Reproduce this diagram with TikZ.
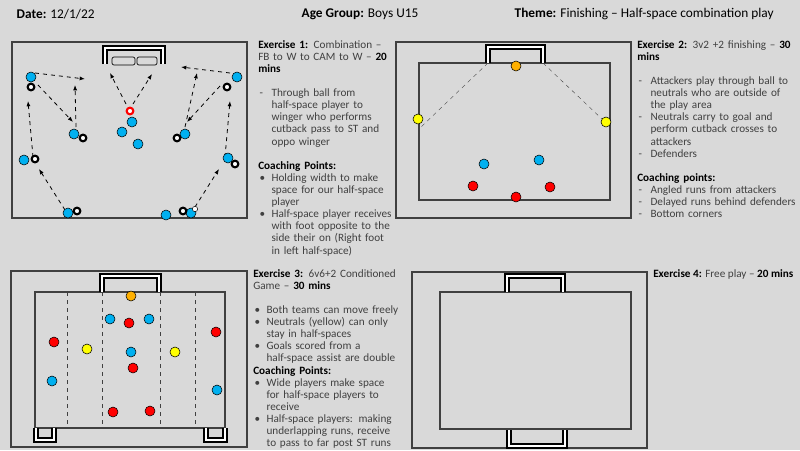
\documentclass[tikz,border=0pt]{standalone}
\usepackage{fontspec}
\setmainfont{Carlito}
\usetikzlibrary{arrows.meta,positioning}
\definecolor{bg}{HTML}{D9D9D9}
\definecolor{txt}{HTML}{404040}
\definecolor{pblue}{HTML}{00B0F0}
\definecolor{porange}{HTML}{FFB000}
\definecolor{pyellow}{HTML}{FFFF00}
\definecolor{pred}{HTML}{FF0000}
\newcommand{\dashit}[1]{\par\hangindent=10pt\hangafter=1\noindent\makebox[10pt][l]{\hspace{1pt}-}#1\par}
\newcommand{\bulit}[1]{\par\hangindent=10pt\hangafter=1\noindent\makebox[10pt][l]{\hspace{1pt}\textbullet}#1\par}
\tikzset{
  pitch/.style={draw=txt, line width=1.1pt},
  goal/.style={draw=black, double=white, double distance=0.9pt, line width=1.9pt},
  player/.style={circle, draw=black, line width=0.4pt, minimum size=7.5pt, inner sep=0pt},
  blue/.style={player, fill=pblue},
  red/.style={player, fill=pred},
  yellow/.style={player, fill=pyellow},
  orange/.style={player, fill=porange},
  ring/.style={circle, draw=black, line width=1.6pt, fill=white, minimum size=5pt, inner sep=0pt},
  run/.style={-{Latex[length=4pt,width=3pt]}, dashed, line width=0.6pt, black},
  notes/.style={anchor=north west, inner sep=0pt, align=left, text=txt,
    font=\fontsize{8.4}{9.1}\selectfont,
    execute at begin node={\hyphenpenalty=10000\exhyphenpenalty=10000}}
}
\begin{document}
\begin{tikzpicture}[x=0.75pt, y=-0.75pt]
    \fill[bg] (0,0) rectangle (800,450);
    \useasboundingbox (0,0) rectangle (800,450);

    % Header
    \node[anchor=west, font=\fontsize{10}{11}\selectfont] (date) at (12,14) {\textbf{Date:} 12/1/22};
    \node[anchor=west, font=\fontsize{10}{11}\selectfont] (age) at (297,14) {\textbf{Age Group:} Boys U15};
    \node[anchor=west, font=\fontsize{10}{11}\selectfont] (theme) at (510,14) {\textbf{Theme:} Finishing -- Half-space combination play};

    % Exercise 1
    \draw[pitch] (12,42) rectangle (247,218);
    \draw[goal] (105,64) -- (105,48) -- (163,48) -- (163,64);
    \draw[draw=black, fill=bg, rounded corners=1.5pt, line width=0.5pt] (112,57) rectangle (135,65);
    \draw[draw=black, fill=bg, rounded corners=1.5pt, line width=0.5pt] (137,57) rectangle (157,65);
    \foreach \xa/\ya/\xb/\yb in {35/73/85/79, 38/85/73/122, 76/127/75/85, 33/157/28/101, 65/210/39/169,
                       126/104/110/73, 133/104/152/74, 230/73/181/67, 185/127/197/73,
                       220/86/187/122, 225/157/230/101, 195/207/219/169}
        \draw[run] (\xa,\ya) -- (\xb,\yb);
    \foreach \x/\y in {31/77, 74/134, 24/160, 68/213, 132/122, 122/132, 138/144,
                       166/215, 191/213, 185/134, 228/158, 237/77}
        \node[blue] at (\x,\y) {};
    \foreach \x/\y in {31/87, 83/138, 35/159, 77/211, 183/211, 177/138, 235/164, 227/87}
        \node[ring] at (\x,\y) {};
    \node[ring, draw=pred] (st) at (130,111) {};
    \node[circle, draw=black, fill=white, line width=0.4pt, minimum size=4pt, inner sep=0pt] (ball) at (195,209) {};
    \node[notes, text width=103pt] (ex1) at (258,40) {%
        \textcolor{black}{\textbf{Exercise 1:}} Combination -- FB to W to CAM to W -- \textbf{\textcolor{black}{20 mins}}\par
        \vspace{9pt}
        \dashit{Through ball from half-space player to winger who performs cutback pass to ST and oppo winger}
        \vspace{9pt}
        \noindent\textcolor{black}{\textbf{Coaching Points:}}
        \bulit{Holding width to make space for our half-space player}
        \bulit{Half-space player receives with foot opposite to the side their on (Right foot in left half-space)}};

    % Exercise 2
    \draw[pitch] (396,42) rectangle (631,218);
    \draw[pitch, line width=0.9pt] (419,63) rectangle (610,200);
    \draw[goal] (488,63) -- (488,47) -- (543,47) -- (543,63);
    \draw[dashed, line width=0.3pt, txt] (488,63) -- (421,127);
    \draw[dashed, line width=0.3pt, txt] (543,63) -- (603,120);
    \node[orange] (gk2) at (516,66) {};
    \node[yellow] (n2a) at (418,119) {};
    \node[yellow] (n2b) at (606,122) {};
    \node[blue] (a2a) at (484,164) {};
    \node[blue] (a2b) at (539,160) {};
    \node[red] (d2a) at (473,186) {};
    \node[red] (d2b) at (550,187) {};
    \node[red] (d2c) at (516,197) {};
    \node[notes, text width=120pt] (ex2) at (637,40) {%
        \textcolor{black}{\textbf{Exercise 2:}} 3v2 +2 finishing -- \textbf{\textcolor{black}{30 mins}}\par
        \vspace{9pt}
        \dashit{Attackers play through ball to neutrals who are outside of the play area}
        \dashit{Neutrals carry to goal and perform cutback crosses to attackers}
        \dashit{Defenders}
        \vspace{9pt}
        \noindent\textcolor{black}{\textbf{Coaching points:}}
        \dashit{Angled runs from attackers}
        \dashit{Delayed runs behind defenders}
        \dashit{Bottom corners}};

    % Exercise 3
    \draw[pitch] (11,271) rectangle (247,447);
    \draw[pitch, line width=0.9pt] (35,292) rectangle (225,428);
    \foreach \x in {67,102,160,195}
        \draw[dashed, line width=0.3pt, txt] (\x,292) -- (\x,428);
    \draw[goal] (102,292) -- (102,276) -- (159,276) -- (159,292);
    \draw[goal] (36,428) -- (36,440) -- (54,440) -- (54,428);
    \draw[goal] (206,428) -- (206,440) -- (225,440) -- (225,428);
    \node[orange] at (131,296) {};
    \foreach \x/\y in {110/319, 149/319, 131/352, 52/381, 217/390}
        \node[blue] at (\x,\y) {};
    \foreach \x/\y in {129/323, 54/342, 216/332, 133/368, 113/412, 150/411}
        \node[red] at (\x,\y) {};
    \foreach \x/\y in {87/349, 175/352}
        \node[yellow] at (\x,\y) {};
    \node[notes, text width=110pt] (ex3) at (253,269) {%
        \textcolor{black}{\textbf{Exercise 3:}} 6v6+2 Conditioned Game -- \textbf{\textcolor{black}{30 mins}}\par
        \vspace{9pt}
        \bulit{Both teams can move freely}
        \bulit{Neutrals (yellow) can only stay in half-spaces}
        \bulit{Goals scored from a half-space assist are double}
        \noindent\textcolor{black}{\textbf{Coaching Points:}}
        \bulit{Wide players make space for half-space players to receive}
        \bulit{Half-space players: making underlapping runs, receive to pass to far post ST runs}};

    % Exercise 4
    \draw[pitch] (412,272) rectangle (647,448);
    \draw[pitch, line width=0.9pt] (440,292) rectangle (631,429);
    \draw[goal] (507,292) -- (507,276) -- (563,276) -- (563,292);
    \draw[goal] (509,430) -- (509,446) -- (565,446) -- (565,430);
    \node[notes] (ex4) at (653,269) {\textcolor{black}{\textbf{Exercise 4:}} Free play -- \textbf{\textcolor{black}{20 mins}}};
\end{tikzpicture}
\end{document}
